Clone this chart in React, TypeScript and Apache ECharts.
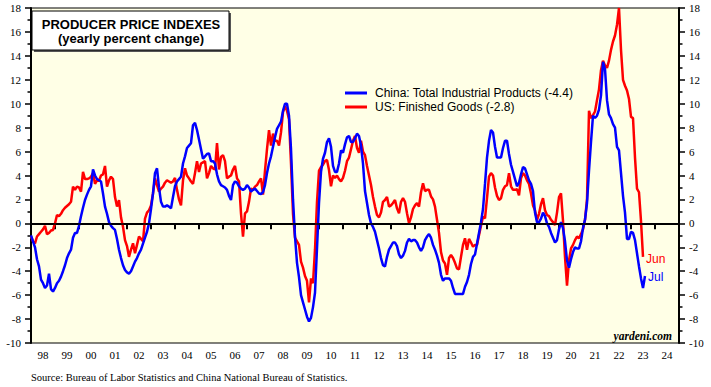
import React, { useEffect, useRef } from 'react';
import * as echarts from 'echarts';

// x-axis year labels (one band per calendar year)
const yearLabels = ['98','99','00','01','02','03','04','05','06','07','08','09','10','11','12','13','14','15','16','17','18','19','20','21','22','23','24'];

// Monthly series; first value is Dec 1997, each point plotted at month-end
const startYear = 1998;

const chinaName = 'China: Total Industrial Products (-4.4)';
const usName = 'US: Finished Goods (-2.8)';

// China PPI, yearly % change (Dec 1997 .. Jul 2023)
const china = [
  -1.0,
  -1.5, -2.0, -3.0, -3.6, -4.7, -5.0, -5.4, -5.2, -4.2, -5.5, -5.7, -5.4,
  -5.0, -4.8, -4.45, -4.0, -3.5, -2.9, -2.5, -2.2, -1.2, -0.8, -0.8, -0.2,
  0.6, 1.3, 1.95, 2.4, 2.8, 3.1, 4.5, 4.0, 3.7, 3.6, 3.5, 2.5,
  1.4, 0.8, 0.1, -0.2, -0.4, -0.55, -1.3, -2.2, -2.9, -3.5, -3.9, -4.1,
  -4.2, -4.0, -3.6, -3.2, -2.9, -2.5, -2.2, -1.7, -1.2, -0.7, 0.0, 1.2,
  2.5, 4.2, 4.6, 3.0, 1.8, 1.4, 1.4, 1.5, 1.4, 1.25, 2.2, 3.1,
  3.5, 3.7, 3.9, 5.0, 5.6, 6.3, 6.5, 6.7, 8.2, 8.4, 7.8, 7.0,
  6.2, 5.4, 5.6, 5.8, 5.85, 5.2, 5.2, 5.0, 4.1, 3.5, 3.2, 3.1,
  3.0, 2.8, 2.3, 1.95, 3.2, 3.5, 3.4, 3.1, 2.9, 2.8, 2.9, 3.2,
  3.0, 2.65, 2.8, 2.9, 2.7, 2.5, 2.45, 2.6, 3.2, 4.2, 5.0, 5.6,
  6.4, 7.2, 7.9, 8.2, 8.5, 9.4, 10.0, 10.0, 9.0, 6.2, 2.0, -1.1,
  -3.3, -4.5, -6.0, -6.6, -7.2, -7.8, -8.2, -7.9, -7.0, -5.8, -2.1, 1.7,
  4.3, 5.4, 5.9, 6.8, 7.1, 6.4, 4.8, 4.3, 4.3, 5.0, 6.1, 5.9,
  6.6, 7.2, 7.3, 6.8, 6.8, 7.1, 7.5, 7.3, 6.5, 5.0, 2.7, 1.7,
  0.7, 0.0, -0.3, -0.7, -1.4, -2.1, -2.9, -3.5, -3.6, -2.8, -2.2, -1.9,
  -1.6, -1.6, -1.9, -2.6, -2.9, -2.7, -2.3, -1.6, -1.3, -1.5, -1.4, -1.4,
  -1.6, -2.0, -2.3, -2.0, -1.4, -1.1, -0.9, -1.2, -1.8, -2.2, -2.7, -3.3,
  -4.3, -4.8, -4.6, -4.6, -4.6, -4.8, -5.4, -5.9, -5.9, -5.9, -5.9, -5.9,
  -5.3, -4.9, -4.3, -3.4, -2.8, -2.6, -1.7, -0.8, 0.1, 1.2, 3.3, 5.5,
  6.9, 7.8, 7.6, 6.4, 5.5, 5.5, 5.5, 6.3, 6.9, 6.9, 5.8, 4.9,
  4.3, 3.7, 3.1, 3.4, 4.1, 4.7, 4.6, 4.1, 3.6, 3.3, 2.7, 0.9,
  0.1, 0.1, 0.4, 0.9, 0.6, 0.0, -0.3, -0.8, -1.2, -1.6, -1.4, -0.5,
  0.1, -0.4, -1.5, -3.1, -3.7, -3.0, -2.4, -2.0, -2.1, -2.1, -1.5, -0.4,
  0.3, 1.7, 4.4, 6.8, 9.0, 8.8, 9.0, 9.5, 10.7, 13.5, 12.9, 10.3,
  9.1, 8.8, 8.3, 8.0, 6.4, 6.1, 4.2, 2.3, 0.9, -1.3, -1.3, -0.7,
  -0.8, -1.4, -2.5, -3.6, -4.6, -5.4, -4.4,
];

// US PPI finished goods, yearly % change (Dec 1997 .. Jun 2023)
const us = [
  -1.1,
  -1.5, -1.67, -1.1, -0.9, -0.7, -0.5, -0.2, -0.9, -0.8, -0.6, -0.55, 0.0,
  0.7, 0.6, 0.8, 1.1, 1.3, 1.45, 1.6, 1.8, 3.07, 2.8, 3.07, 3.0,
  2.65, 4.3, 3.7, 3.7, 3.76, 3.9, 4.2, 3.3, 3.6, 3.55, 4.0, 4.1,
  4.8, 3.07, 3.6, 3.9, 3.7, 2.2, 1.4, 1.95, 0.5, -0.28, -1.4, -1.9,
  -2.8, -2.2, -1.67, -2.5, -1.8, -1.1, -1.3, -1.5, 0.4, 0.9, 1.1, 1.5,
  2.5, 3.76, 3.2, 2.65, 2.9, 3.07, 3.4, 3.6, 3.5, 3.4, 3.5, 3.8,
  2.8, 2.0, 1.5, 3.6, 4.6, 4.0, 3.76, 3.5, 3.3, 4.2, 5.2, 4.3,
  5.0, 5.1, 5.2, 3.76, 4.2, 4.8, 4.6, 4.5, 6.7, 4.5, 5.55, 5.7,
  5.2, 3.76, 3.9, 4.0, 4.5, 4.8, 3.76, 3.5, 0.84, -1.1, 0.84, 1.0,
  1.8, 2.9, 2.8, 3.07, 3.2, 3.5, 3.76, 2.4, 4.4, 6.2, 7.8, 6.5,
  7.5, 6.9, 6.9, 6.5, 7.6, 9.3, 9.8, 9.4, 8.7, 5.0, 0.8, -1.2,
  -1.5, -1.8, -3.2, -3.7, -4.4, -4.8, -6.6, -4.6, -5.0, -2.2, 1.8, 4.4,
  4.7, 4.9, 5.2, 5.3, 4.45, 3.1, 4.0, 3.8, 4.0, 3.7, 3.5, 3.8,
  4.4, 5.2, 5.5, 6.2, 6.9, 7.3, 6.3, 5.9, 6.9, 6.0, 5.7, 4.8,
  4.0, 3.2, 2.2, 1.4, 0.7, 0.5, 0.9, 1.8, 1.95, 2.2, 1.4, 1.5,
  1.7, 1.95, 1.25, 0.84, 1.8, 2.1, 1.8, 0.84, 0.0, 0.5, 1.2, 1.5,
  1.7, 1.4, 2.6, 3.35, 2.7, 2.8, 2.8, 2.25, 2.0, 1.4, 0.3, -0.8,
  -2.4, -3.1, -3.35, -4.3, -2.9, -2.65, -2.9, -3.3, -3.76, -3.85, -2.8, -1.8,
  -1.25, -2.2, -1.3, -1.6, -1.95, -1.8, -1.8, -1.0, -0.2, 0.56, 0.42, 2.1,
  3.9, 4.2, 4.0, 3.0, 2.3, 1.95, 2.1, 2.8, 3.1, 3.2, 4.2, 3.1,
  2.8, 2.8, 2.85, 2.35, 3.76, 4.2, 4.0, 3.6, 3.3, 2.5, 1.5, 1.1,
  0.28, 0.8, 1.6, 2.1, 1.1, 0.7, 0.6, 0.3, 0.1, -0.14, 0.9, 2.2,
  2.5, 0.2, -2.8, -5.2, -3.1, -2.1, -1.8, -1.4, -1.1, -1.25, -0.9, -0.5,
  0.3, 2.0, 9.4, 8.8, 9.05, 9.35, 10.3, 11.2, 12.8, 13.6, 13.2, 13.0,
  13.6, 14.5, 15.2, 15.7, 16.6, 18.0, 14.5, 12.0, 11.5, 11.1, 10.4, 8.9,
  8.8, 5.5, 2.9, 2.6, 0.2, -2.8,
];

const chinaEndLabel = 'Jul';
const usEndLabel = 'Jun';

const toPoints = (vals: number[]) => vals.map((v, k) => [startYear + k / 12, v]);

const serif = '"Liberation Serif", "Times New Roman", serif';
const sans = '"Liberation Sans", Arial, sans-serif';

function makeYAxis(position: 'left' | 'right') {
  return {
    type: 'value',
    position,
    min: -10,
    max: 18,
    interval: 2,
    axisLine: { show: true, onZero: false, lineStyle: { color: '#000', width: 2 } },
    axisTick: { show: true, inside: false, length: 6, lineStyle: { color: '#000', width: 1.5 } },
    minorTick: { show: true, splitNumber: 2, length: 3.5, lineStyle: { color: '#000', width: 1.5 } },
    splitLine: { show: false },
    minorSplitLine: { show: false },
    axisLabel: { color: '#000', fontFamily: serif, fontSize: 11, margin: 10 },
  };
}

export default function App() {
  const ref = useRef<HTMLDivElement>(null);
  useEffect(() => {
    const chart = echarts.init(ref.current!, null, { renderer: 'svg' });
    const option: any = {
      animation: false,
      backgroundColor: '#ffffff',
      grid: {
        left: 31, right: 32, top: 8, bottom: 44,
        show: true, backgroundColor: '#FFFFE6', borderColor: '#000', borderWidth: 1,
      },
      xAxis: [
        { type: 'value', min: 1998, max: 2025, show: false },
        {
          type: 'category',
          data: yearLabels,
          position: 'bottom',
          boundaryGap: true,
          axisLine: { show: true, lineStyle: { color: '#000', width: 2 } },
          axisTick: { show: true, inside: false, length: 6, lineStyle: { color: '#000', width: 2 } },
          axisLabel: { interval: 0, color: '#000', fontFamily: serif, fontSize: 11, margin: 6 },
          splitLine: { show: false },
        },
      ],
      yAxis: [makeYAxis('left'), makeYAxis('right')],
      legend: {
        orient: 'vertical',
        left: 340,
        top: 82,
        itemWidth: 22,
        itemHeight: 3,
        itemGap: 2,
        icon: 'rect',
        textStyle: { fontFamily: sans, fontSize: 12, color: '#000', padding: [0, 0, 0, 3] },
        data: [chinaName, usName],
      },
      series: [
        {
          name: usName,
          type: 'line',
          xAxisIndex: 0,
          yAxisIndex: 0,
          data: toPoints(us),
          showSymbol: false,
          symbol: 'none',
          z: 2,
          lineStyle: { color: '#FF0000', width: 2.5 },
          itemStyle: { color: '#FF0000' },
          endLabel: {
            show: true, formatter: usEndLabel, color: '#FF0000',
            fontFamily: sans, fontSize: 12, distance: 3, offset: [0, 2],
          },
          markLine: {
            silent: true,
            symbol: 'none',
            label: { show: false },
            lineStyle: { color: '#000', width: 1.5, type: 'solid' },
            data: [{ yAxis: 0 }],
          },
        },
        {
          name: chinaName,
          type: 'line',
          xAxisIndex: 0,
          yAxisIndex: 0,
          data: toPoints(china),
          showSymbol: false,
          symbol: 'none',
          z: 3,
          lineStyle: { color: '#0000FF', width: 2.5 },
          itemStyle: { color: '#0000FF' },
          endLabel: {
            show: true, formatter: chinaEndLabel, color: '#0000FF',
            fontFamily: sans, fontSize: 12, distance: 3, offset: [0, 1],
          },
        },
      ],
      graphic: [
        { type: 'rect', shape: { x: 34, y: 13, width: 197, height: 39 }, style: { fill: '#555' }, z: 10 },
        { type: 'rect', shape: { x: 32, y: 11, width: 197, height: 39 }, style: { fill: '#fff', stroke: '#000', lineWidth: 1 }, z: 11 },
        {
          type: 'text', x: 131, y: 24.5, z: 12,
          style: {
            text: 'PRODUCER PRICE INDEXES', font: 'bold 13px ' + sans, fill: '#000',
            align: 'center', verticalAlign: 'middle', textAlign: 'center', textVerticalAlign: 'middle',
          },
        },
        {
          type: 'text', x: 131, y: 38, z: 12,
          style: {
            text: '(yearly percent change)', font: 'bold 13px ' + sans, fill: '#000',
            align: 'center', verticalAlign: 'middle', textAlign: 'center', textVerticalAlign: 'middle',
          },
        },
        {
          type: 'text', x: 672, y: 336, z: 12,
          style: {
            text: 'yardeni.com', font: 'italic bold 11.5px ' + serif, fill: '#000',
            align: 'right', verticalAlign: 'middle', textAlign: 'right', textVerticalAlign: 'middle',
          },
        },
        {
          type: 'text', x: 31, y: 377, z: 12,
          style: {
            text: 'Source: Bureau of Labor Statistics and China National Bureau of Statistics.',
            font: '10.5px ' + serif, fill: '#000',
            align: 'left', verticalAlign: 'middle', textAlign: 'left', textVerticalAlign: 'middle',
          },
        },
      ],
    };
    chart.setOption(option);
    return () => chart.dispose();
  }, []);
  return (
    <div
      ref={ref}
      style={{ position: 'absolute', left: 0, top: 0, width: 711, height: 387, background: '#fff' }}
    />
  );
}
